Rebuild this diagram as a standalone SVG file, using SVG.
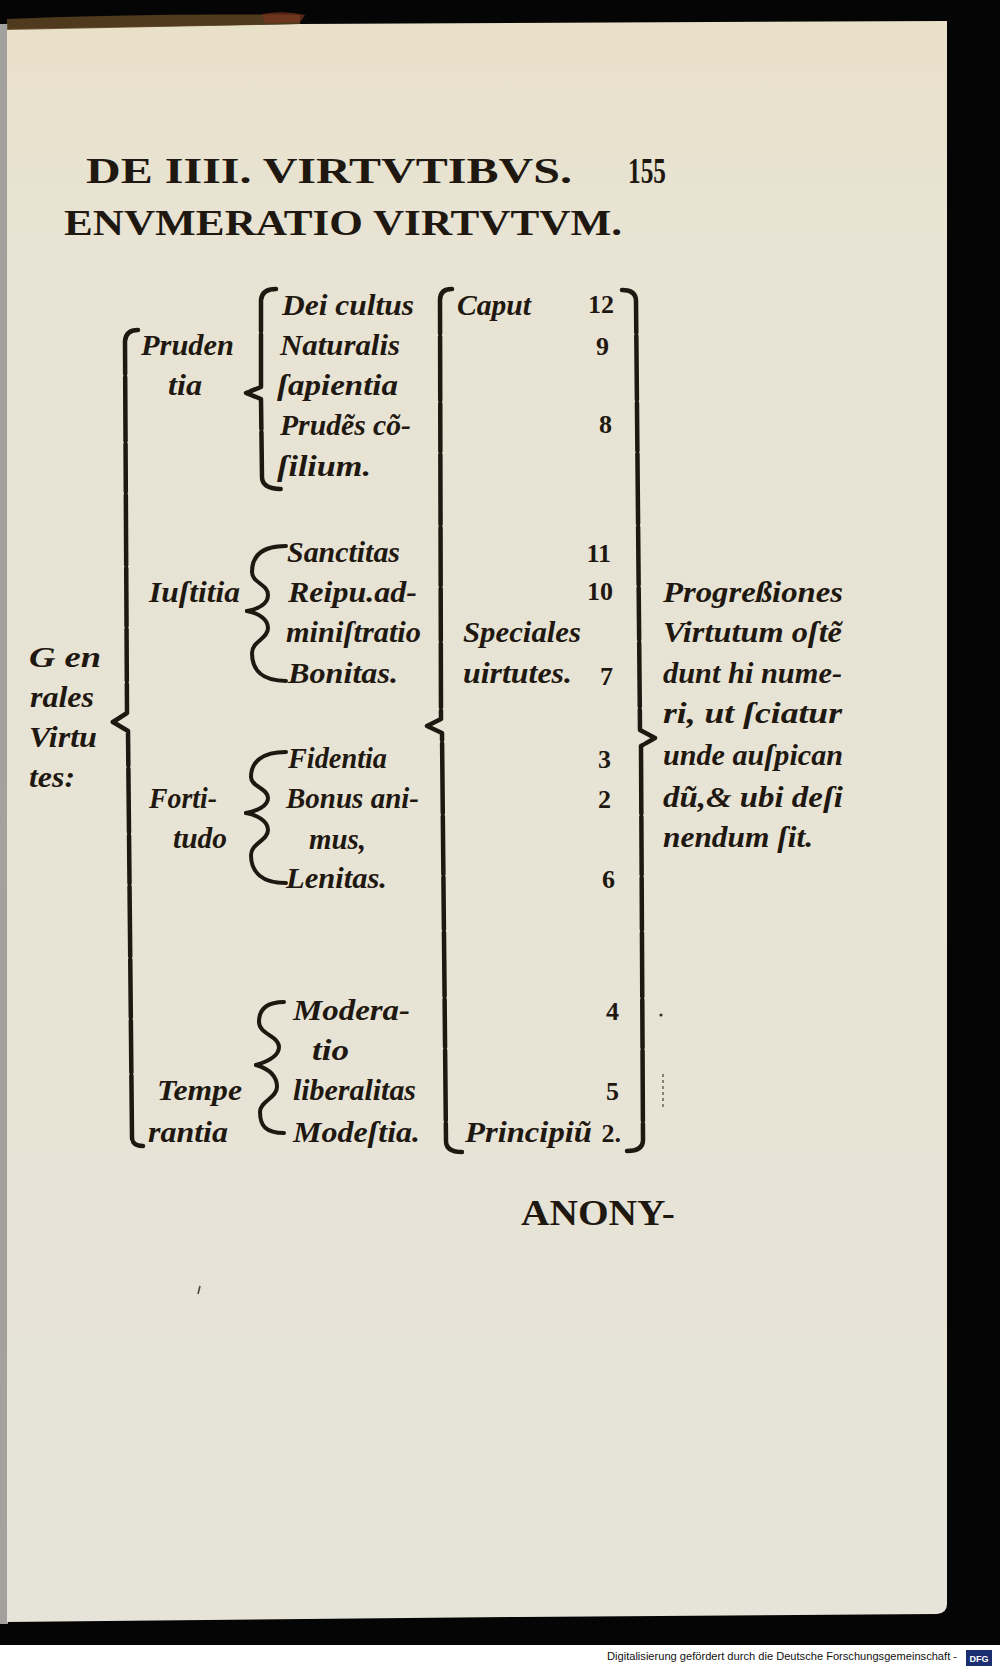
<svg xmlns="http://www.w3.org/2000/svg" width="1000" height="1666" viewBox="0 0 1000 1666">
<defs>
<linearGradient id="paper" x1="0" y1="0" x2="0" y2="1">
<stop offset="0" stop-color="#e9e0c8"/>
<stop offset="0.12" stop-color="#e8e3d3"/>
<stop offset="1" stop-color="#e6e4d8"/>
</linearGradient>
<style>
.t{font-family:"Liberation Serif","DejaVu Serif",serif;font-style:italic;font-weight:bold;font-size:29px;fill:#1f1810}
.n{font-family:"Liberation Serif","DejaVu Serif",serif;font-weight:bold;font-size:26px;fill:#1f1810}
.h{font-family:"Liberation Serif","DejaVu Serif",serif;font-weight:bold;font-size:35px;fill:#1f1810}
.br{fill:none;stroke:#1f1810;stroke-width:4.5;stroke-linecap:round;stroke-linejoin:round}
.gap{stroke-dasharray:52 3 64 3 48 3 70 3 58 3}
.cb{fill:none;stroke:#1f1810;stroke-width:4;stroke-linecap:round}
.foot{font-family:"Liberation Sans",Arial,sans-serif;font-size:10.5px;fill:#111}
</style>
</defs>
<rect x="0" y="0" width="1000" height="1666" fill="#050505"/>
<rect x="0" y="1645" width="1000" height="21" fill="#ffffff"/>
<rect x="0" y="24" width="8" height="1600" fill="#a3a19e"/>
<path d="M 7 29 L 300 24 L 947 21 L 947 1604 Q 947 1613 937 1614 L 520 1617 L 7 1622 Z" fill="url(#paper)"/>
<path d="M 7 19 Q 150 13 300 15 L 300 24 L 7 30 Z" fill="#5e4422" opacity="0.85"/>
<path d="M 262 14 Q 285 10 305 15 L 300 22 L 265 23 Z" fill="#7a3520" opacity="0.7"/>

<g id="header">
<text class="h" x="86" y="183" textLength="486" lengthAdjust="spacingAndGlyphs">DE IIII. VIRTVTIBVS.</text>
<text class="h" x="628" y="183" font-size="30" textLength="38" lengthAdjust="spacingAndGlyphs">155</text>
<text class="h" x="64" y="235" textLength="558" lengthAdjust="spacingAndGlyphs">ENVMERATIO VIRTVTVM.</text>
</g>

<g id="connectors">
<path class="br gap" d="M 138 330 Q 126 330 125 341 L 127 713 L 113 722"/>
<path class="br gap" d="M 113 722 L 128 731 L 132 1137 Q 132 1146 143 1146"/>
<path class="br gap" d="M 276 289 Q 262 289 261 300 L 261 387 L 246 393 L 261 399 L 262 477 Q 262 489 282 489"/>
<path class="cb" d="M 286 546 C 262 546, 252 556, 252 572 C 252 583, 268 584, 268 595 C 268 604, 258 609, 247 611"/>
<path class="cb" d="M 247 611 C 258 613, 268 619, 268 628 C 268 639, 252 641, 252 653 C 252 670, 262 681, 286 681"/>
<path class="cb" d="M 286 752 C 262 752, 251 762, 251 777 C 251 787, 268 788, 268 798 C 268 806, 257 811, 246 813"/>
<path class="cb" d="M 246 813 C 257 815, 268 821, 268 830 C 268 841, 251 843, 251 855 C 251 872, 262 883, 286 883"/>
<path class="cb" d="M 284 1002 C 266 1002, 259 1010, 259 1022 C 259 1034, 279 1036, 279 1047 C 279 1056, 266 1062, 256 1065"/>
<path class="cb" d="M 256 1065 C 266 1068, 277 1074, 277 1087 C 277 1098, 260 1101, 260 1112 C 260 1126, 266 1133, 284 1133"/>
<path class="br gap" d="M 452 289 Q 440 289 440 300 L 441 719 L 427 726 L 442 733 L 446 1141 Q 446 1152 462 1152"/>
<path class="br gap" d="M 622 290 Q 636 290 636 301 L 640 730 L 655 738 L 641 746 L 643 1140 Q 643 1151 627 1151"/>
</g>

<g id="generales">
<text class="t" x="29" y="667" textLength="72" lengthAdjust="spacingAndGlyphs">G en</text>
<text class="t" x="30" y="707" textLength="64" lengthAdjust="spacingAndGlyphs">rales</text>
<text class="t" x="29" y="747" textLength="68" lengthAdjust="spacingAndGlyphs">Virtu</text>
<text class="t" x="29" y="787" textLength="46" lengthAdjust="spacingAndGlyphs">tes:</text>
</g>

<g id="prudentia">
<text class="t" x="141" y="355" textLength="93" lengthAdjust="spacingAndGlyphs">Pruden</text>
<text class="t" x="168" y="395" textLength="34" lengthAdjust="spacingAndGlyphs">tia</text>
<text class="t" x="282" y="315" textLength="132" lengthAdjust="spacingAndGlyphs">Dei cultus</text>
<text class="t" x="280" y="355" textLength="120" lengthAdjust="spacingAndGlyphs">Naturalis</text>
<text class="t" x="277" y="395" textLength="121" lengthAdjust="spacingAndGlyphs">ſapientia</text>
<text class="t" x="280" y="435" textLength="131" lengthAdjust="spacingAndGlyphs">Prudẽs cõ-</text>
<text class="t" x="277" y="476" textLength="94" lengthAdjust="spacingAndGlyphs">ſilium.</text>
</g>

<g id="iustitia">
<text class="t" x="149" y="602" textLength="91" lengthAdjust="spacingAndGlyphs">Iuſtitia</text>
<text class="t" x="287" y="562" textLength="113" lengthAdjust="spacingAndGlyphs">Sanctitas</text>
<text class="t" x="288" y="602" textLength="129" lengthAdjust="spacingAndGlyphs">Reipu.ad-</text>
<text class="t" x="286" y="642" textLength="135" lengthAdjust="spacingAndGlyphs">miniſtratio</text>
<text class="t" x="288" y="683" textLength="110" lengthAdjust="spacingAndGlyphs">Bonitas.</text>
</g>

<g id="fortitudo">
<text class="t" x="149" y="808" textLength="68" lengthAdjust="spacingAndGlyphs">Forti-</text>
<text class="t" x="173" y="848" textLength="54" lengthAdjust="spacingAndGlyphs">tudo</text>
<text class="t" x="288" y="768" textLength="99" lengthAdjust="spacingAndGlyphs">Fidentia</text>
<text class="t" x="286" y="808" textLength="133" lengthAdjust="spacingAndGlyphs">Bonus ani-</text>
<text class="t" x="309" y="849" textLength="57" lengthAdjust="spacingAndGlyphs">mus,</text>
<text class="t" x="286" y="888" textLength="101" lengthAdjust="spacingAndGlyphs">Lenitas.</text>
</g>

<g id="temperantia">
<text class="t" x="157" y="1100" textLength="85" lengthAdjust="spacingAndGlyphs">Tempe</text>
<text class="t" x="148" y="1142" textLength="80" lengthAdjust="spacingAndGlyphs">rantia</text>
<text class="t" x="293" y="1020" textLength="117" lengthAdjust="spacingAndGlyphs">Modera-</text>
<text class="t" x="312" y="1060" textLength="37" lengthAdjust="spacingAndGlyphs">tio</text>
<text class="t" x="293" y="1100" textLength="123" lengthAdjust="spacingAndGlyphs">liberalitas</text>
<text class="t" x="293" y="1142" textLength="127" lengthAdjust="spacingAndGlyphs">Modeſtia.</text>
</g>

<g id="speciales">
<text class="t" x="457" y="315" textLength="74" lengthAdjust="spacingAndGlyphs">Caput</text>
<text class="t" x="463" y="642" textLength="118" lengthAdjust="spacingAndGlyphs">Speciales</text>
<text class="t" x="463" y="683" textLength="109" lengthAdjust="spacingAndGlyphs">uirtutes.</text>
<text class="t" x="465" y="1142" textLength="127" lengthAdjust="spacingAndGlyphs">Principiũ</text>
</g>

<g id="numbers">
<text class="n" x="614" y="313" text-anchor="end">12</text>
<text class="n" x="609" y="355" text-anchor="end">9</text>
<text class="n" x="612" y="433" text-anchor="end">8</text>
<text class="n" x="611" y="562" text-anchor="end">11</text>
<text class="n" x="613" y="600" text-anchor="end">10</text>
<text class="n" x="613" y="685" text-anchor="end">7</text>
<text class="n" x="611" y="768" text-anchor="end">3</text>
<text class="n" x="611" y="808" text-anchor="end">2</text>
<text class="n" x="615" y="888" text-anchor="end">6</text>
<text class="n" x="619" y="1020" text-anchor="end">4</text>
<text class="n" x="619" y="1100" text-anchor="end">5</text>
<text class="n" x="621" y="1142" text-anchor="end">2.</text>
</g>

<g id="progressiones">
<text class="t" x="663" y="602" textLength="180" lengthAdjust="spacingAndGlyphs">Progreßiones</text>
<text class="t" x="663" y="642" textLength="179" lengthAdjust="spacingAndGlyphs">Virtutum oſtẽ</text>
<text class="t" x="663" y="683" textLength="179" lengthAdjust="spacingAndGlyphs">dunt hi nume-</text>
<text class="t" x="663" y="723" textLength="179" lengthAdjust="spacingAndGlyphs">ri,  ut ſciatur</text>
<text class="t" x="663" y="765" textLength="180" lengthAdjust="spacingAndGlyphs">unde auſpican</text>
<text class="t" x="663" y="807" textLength="180" lengthAdjust="spacingAndGlyphs">dũ,&amp; ubi deſi</text>
<text class="t" x="663" y="847" textLength="150" lengthAdjust="spacingAndGlyphs">nendum ſit.</text>
</g>

<g id="catchword">
<text class="h" x="521" y="1225" font-size="30" textLength="154" lengthAdjust="spacingAndGlyphs">ANONY-</text>
</g>

<g id="marks" fill="#3a3228">
<circle cx="661" cy="1015" r="1.6"/>
<path d="M 663 1074 L 663 1107" stroke="#6a6258" stroke-width="1.5" stroke-dasharray="3 3" fill="none"/>
<path d="M 200 1286 L 198 1294" stroke="#4a4238" stroke-width="1.6" fill="none"/>
</g>

<g id="footer">
<text class="foot" x="607" y="1660" textLength="350" lengthAdjust="spacingAndGlyphs">Digitalisierung gefördert durch die Deutsche Forschungsgemeinschaft -</text>
<rect x="966" y="1650" width="26" height="16" fill="#1b2f70"/>
<text x="979" y="1662" text-anchor="middle" font-family="Liberation Sans, Arial, sans-serif" font-weight="bold" font-size="9" fill="#ffffff">DFG</text>
</g>
</svg>
